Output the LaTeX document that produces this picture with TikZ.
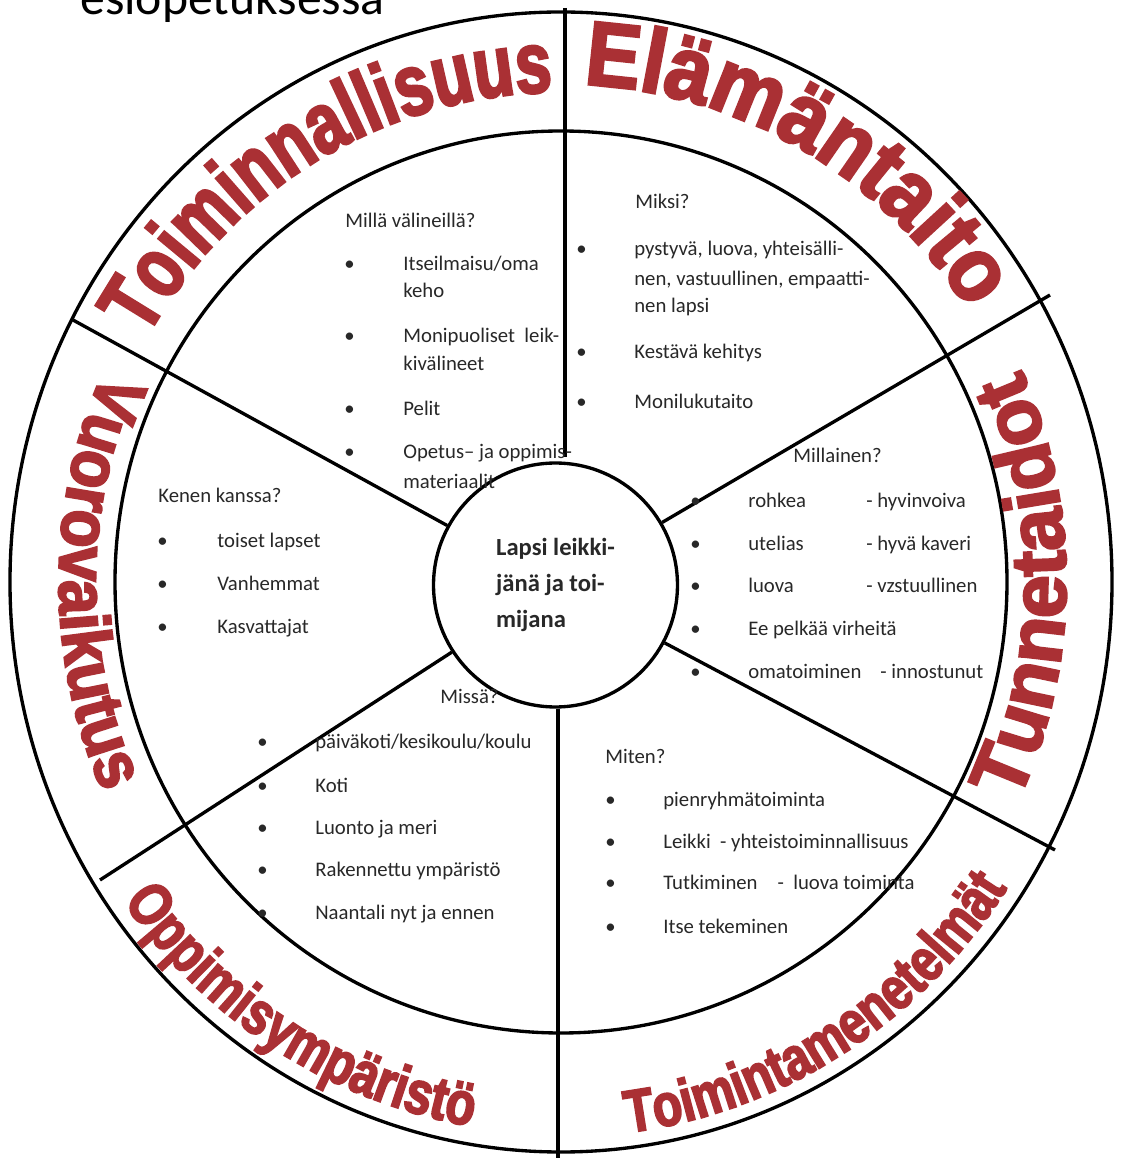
\documentclass[tikz,border=0pt]{standalone}
\usepackage{fontspec}
\setmainfont{Carlito}
\newfontfamily\redA{Liberation Sans Bold}[FakeStretch=0.8,FakeBold=3]
\newfontfamily\redB{Liberation Sans Bold}[FakeStretch=0.9,FakeBold=3]
\newfontfamily\redC{Liberation Sans Bold}[FakeBold=3]
\newfontfamily\redD{Liberation Sans Bold}[FakeStretch=0.75,FakeBold=3]
\usetikzlibrary{decorations.text}
\definecolor{wheelred}{RGB}{170,48,52}
\definecolor{txt}{RGB}{40,40,40}
\begin{document}
\begin{tikzpicture}[x=0.02cm,y=0.02cm,
  body/.style={anchor=base west,inner sep=0,font=\fontsize{11.8}{14}\selectfont,text=txt},
  ring/.style={line width=1.9pt},
  lab/.style={decorate,decoration={text along path,text align=center,text color=wheelred,text={#1}}}]
\useasboundingbox[fill=white] (-561,-576) rectangle (564,582);

% title (cut at top)
\node[anchor=base west,inner sep=0,font=\fontsize{28.3}{30}\selectfont] (title) at (-481,567) {esiopetuksessa};

% rings
\draw[ring] (0,0) ellipse[x radius=551,y radius=570];
\draw[ring] (0,0) ellipse[x radius=446,y radius=451];

% centre
\node[circle,draw,ring,fill=white,minimum size=4.88cm,inner sep=0,align=left,
  font=\bfseries\fontsize{14}{20.5}\selectfont,text=txt] (ctr) at (-5.5,-3)
  {Lapsi leikki-\\jänä ja toi-\\mijana};

% spokes
\coordinate (oT) at (4,574);
\coordinate (iT) at (4,125);
\coordinate (oTR) at (489,287);
\coordinate (oBR) at (494,-268);
\coordinate (oB) at (-3,-576);
\coordinate (oBL) at (-461,-298);
\coordinate (oTL) at (-488,262);
\draw[ring] (oT) -- (iT);
\draw[ring] (ctr) -- (oTR);
\draw[ring] (ctr) -- (oBR);
\draw[ring] (ctr.south -| oB) -- (oB);
\draw[ring] (ctr) -- (oBL);
\draw[ring] (ctr) -- (oTL);

% curved labels
\path[lab={|\redD\fontsize{49.5}{52}\selectfont|Toiminnallisuus}]
  (155:478 and 490) arc[start angle=155,end angle=86,x radius=478,y radius=490];
\path[lab={|\redB\fontsize{51.8}{55}\selectfont|Elämäntaito}]
  (95:486 and 498) arc[start angle=95,end angle=25.5,x radius=486,y radius=498];
\path[lab={|\redC\fontsize{44.4}{48}\selectfont|Tunnetaidot}]
  (-35:505 and 515) arc[start angle=-35,end angle=34,x radius=505,y radius=515];
\path[lab={|\redB\fontsize{39.5}{42}\selectfont|Vuorovaikutus}]
  (145:502 and 512) arc[start angle=145,end angle=215,x radius=502,y radius=512];
\path[lab={|\redA\fontsize{34.5}{36}\selectfont|Oppimisympäristö}]
  (205:537 and 552) arc[start angle=205,end angle=271,x radius=537,y radius=552];
\path[lab={|\redA\fontsize{34.1}{36}\selectfont|Toimintamenetelmät}]
  (-90:535 and 555) arc[start angle=-90,end angle=-26.5,x radius=535,y radius=555];

% top-left: Millä välineillä?
\node[body] (h1) at (-216,354) {Millä välineillä?};
\node[body] (b11) at (-217,311) {•};
\node[body] (t11) at (-158,311) {Itseilmaisu/oma};
\node[body] (t12) at (-158,284) {keho};
\node[body] (b12) at (-217,239) {•};
\node[body] (t13) at (-158,239) {Monipuoliset\ \ leik-};
\node[body] (t14) at (-158,211) {kivälineet};
\node[body] (b13) at (-217,166) {•};
\node[body] (t15) at (-158,166) {Pelit};
\node[body] (b14) at (-217,123) {•};
\node[body] (t16) at (-158,123) {Opetus– ja oppimis-};
\node[body] (t17) at (-158,93) {materiaalit};

% top-right: Miksi?
\node[body] (h2) at (74,373) {Miksi?};
\node[body] (b21) at (15,326) {•};
\node[body] (t21) at (73,326) {pystyvä, luova, yhteisälli-};
\node[body] (t22) at (73,296) {nen, vastuullinen, empaatti-};
\node[body] (t23) at (73,269) {nen lapsi};
\node[body] (b22) at (15,223) {•};
\node[body] (t24) at (73,223) {Kestävä kehitys};
\node[body] (b23) at (15,173) {•};
\node[body] (t25) at (73,173) {Monilukutaito};

% right: Millainen?
\node[body] (h3) at (232,119) {Millainen?};
\node[body] (b31) at (129,74) {•};
\node[body] (t31) at (187,74) {rohkea};
\node[body] (u31) at (305,74) {- hyvinvoiva};
\node[body] (b32) at (129,31) {•};
\node[body] (t32) at (187,31) {utelias};
\node[body] (u32) at (305,31) {- hyvä kaveri};
\node[body] (b33) at (129,-11) {•};
\node[body] (t33) at (187,-11) {luova};
\node[body] (u33) at (305,-11) {- vzstuullinen};
\node[body] (b34) at (129,-54) {•};
\node[body] (t34) at (187,-54) {Ee pelkää virheitä};
\node[body] (b35) at (129,-97) {•};
\node[body] (t35) at (187,-97) {omatoiminen\hspace{0.38cm}- innostunut};

% left: Kenen kanssa?
\node[body] (h4) at (-403,79) {Kenen kanssa?};
\node[body] (b41) at (-404,34) {•};
\node[body] (t41) at (-344,34) {toiset lapset};
\node[body] (b42) at (-404,-9) {•};
\node[body] (t42) at (-344,-9) {Vanhemmat};
\node[body] (b43) at (-404,-52) {•};
\node[body] (t43) at (-344,-52) {Kasvattajat};

% bottom-left: Missä?
\node[body] (h5) at (-121,-122) {Missä?};
\node[body] (b51) at (-304,-167) {•};
\node[body] (t51) at (-246,-167) {päiväkoti/kesikoulu/koulu};
\node[body] (b52) at (-304,-211) {•};
\node[body] (t52) at (-246,-211) {Koti};
\node[body] (b53) at (-304,-252) {•};
\node[body] (t53) at (-246,-252) {Luonto ja meri};
\node[body] (b54) at (-304,-294) {•};
\node[body] (t54) at (-246,-294) {Rakennettu ympäristö};
\node[body] (b55) at (-304,-337) {•};
\node[body] (t55) at (-246,-337) {Naantali nyt ja ennen};

% bottom-right: Miten?
\node[body] (h6) at (44,-181) {Miten?};
\node[body] (b61) at (44,-224) {•};
\node[body] (t61) at (102,-224) {pienryhmätoiminta};
\node[body] (b62) at (44,-266) {•};
\node[body] (t62) at (102,-266) {Leikki\ \ - yhteistoiminnallisuus};
\node[body] (b63) at (44,-307) {•};
\node[body] (t63) at (102,-307) {Tutkiminen\hspace{0.4cm}-\ \ luova toiminta};
\node[body] (b64) at (44,-351) {•};
\node[body] (t64) at (102,-351) {Itse tekeminen};
\end{tikzpicture}
\end{document}
